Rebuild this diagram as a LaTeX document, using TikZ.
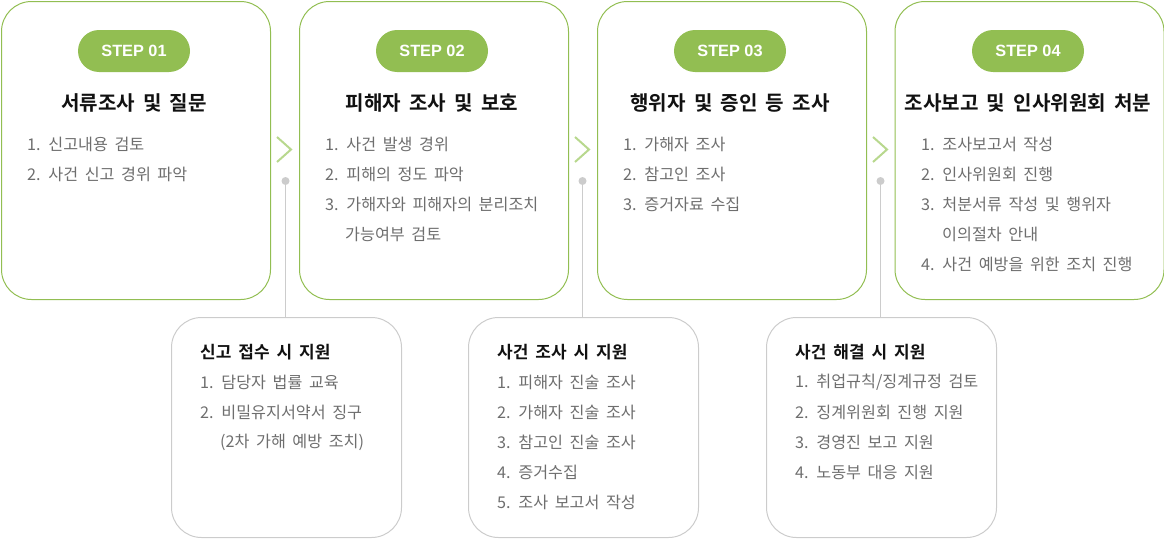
\documentclass[tikz,border=0pt]{standalone}
\usepackage{fontspec}
\newfontfamily\kr{Noto Sans CJK KR}[BoldFont={Noto Sans CJK KR Bold},WordSpace=1.2]
\newfontfamily\krt{Noto Sans CJK KR}[BoldFont={Noto Sans CJK KR Bold},WordSpace=1.0]
\newfontfamily\krb{Noto Sans CJK KR}[BoldFont={Noto Sans CJK KR Bold},WordSpace=1.8]
\newfontfamily\badgefont{Liberation Sans}
\definecolor{gborder}{RGB}{146,190,82}
\definecolor{gbadge}{RGB}{146,190,82}
\definecolor{gchev}{RGB}{184,216,142}
\definecolor{gline}{RGB}{204,204,204}
\definecolor{itemc}{RGB}{110,110,110}
\definecolor{titlec}{RGB}{17,17,17}
\begin{document}
\begin{tikzpicture}[x=1pt,y=-1pt,font=\kr,
  topbox/.style={draw=gborder,line width=1pt,rounded corners=30pt,minimum width=269pt,minimum height=298pt,anchor=north west,inner sep=0pt},
  botbox/.style={draw=gline,line width=1pt,rounded corners=30pt,minimum width=230pt,minimum height=220pt,anchor=north west,inner sep=0pt},
  badge/.style={fill=gbadge,rounded corners=21pt,minimum width=112pt,minimum height=42pt,text=white,font=\badgefont\bfseries\fontsize{16.3}{19}\selectfont,inner sep=0pt},
  ttl/.style={font=\krt\bfseries\fontsize{20.1}{24}\selectfont,text=titlec,inner sep=0pt},
  itm/.style={anchor=west,font=\kr\fontsize{16.2}{18}\selectfont,text=itemc,inner sep=0pt},
  bttl/.style={anchor=west,font=\krb\bfseries\fontsize{17}{19}\selectfont,text=titlec,inner sep=0pt},
  chev/.style={draw=gchev,line width=2pt},
  dotc/.style={circle,fill=gline,minimum size=8pt,inner sep=0pt},
  vline/.style={draw=gline,line width=1pt}]
\useasboundingbox (0,0) rectangle (1164,538);
% top boxes
\node[topbox] (t1) at (1,1) {};
\node[topbox] (t2) at (299,1) {};
\node[topbox] (t3) at (597,1) {};
\node[topbox] (t4) at (894.5,1) {};
% badges
\node[badge] (s1) at (134,51) {STEP 01};
\node[badge] (s2) at (432,51) {STEP 02};
\node[badge] (s3) at (730,51) {STEP 03};
\node[badge] (s4) at (1028,51) {STEP 04};
% titles
\node[ttl] (h1) at (134,103) {서류조사 및 질문};
\node[ttl] (h2) at (432,103) {피해자 조사 및 보호};
\node[ttl] (h3) at (730,103) {행위자 및 증인 등 조사};
\node[ttl] (h4) at (1028,103) {조사보고 및 인사위원회 처분};
% items
\node[itm] (a11) at (27,144) {1. 신고내용 검토};
\node[itm] (a12) at (27,174) {2. 사건 신고 경위 파악};
\node[itm] (a21) at (325,144) {1. 사건 발생 경위};
\node[itm] (a22) at (325,174) {2. 피해의 정도 파악};
\node[itm] (a23) at (325,204) {3. 가해자와 피해자의 분리조치};
\node[itm] (a24) at (345,234) {가능여부 검토};
\node[itm] (a31) at (623,144) {1. 가해자 조사};
\node[itm] (a32) at (623,174) {2. 참고인 조사};
\node[itm] (a33) at (623,204) {3. 증거자료 수집};
\node[itm] (a41) at (921,144) {1. 조사보고서 작성};
\node[itm] (a42) at (921,174) {2. 인사위원회 진행};
\node[itm] (a43) at (921,204) {3. 처분서류 작성 및 행위자};
\node[itm] (a44) at (942,234) {이의절차 안내};
\node[itm] (a45) at (921,264) {4. 사건 예방을 위한 조치 진행};
% chevrons
\draw[chev] (277,137) -- (291,149.5) -- (277,162);
\draw[chev] (575,137) -- (589,149.5) -- (575,162);
\draw[chev] (873,137) -- (887,149.5) -- (873,162);
% bottom boxes
\node[botbox] (b1) at (171,317) {};
\node[botbox] (b2) at (468,317) {};
\node[botbox] (b3) at (766,317) {};
% dots and lines
\node[dotc] (d1) at (285.5,181) {};
\node[dotc] (d2) at (582.5,181) {};
\node[dotc] (d3) at (880.5,181) {};
\draw[vline] (d1.center) -- (d1.center |- b1.north);
\draw[vline] (d2.center) -- (d2.center |- b2.north);
\draw[vline] (d3.center) -- (d3.center |- b3.north);
% bottom texts
\node[bttl] (c1) at (200,352) {신고 접수 시 지원};
\node[itm] (c11) at (200,382) {1. 담당자 법률 교육};
\node[itm] (c12) at (200,412) {2. 비밀유지서약서 징구};
\node[itm] (c13) at (220,442) {(2차 가해 예방 조치)};
\node[bttl] (c2) at (497,352) {사건 조사 시 지원};
\node[itm] (c21) at (497,382) {1. 피해자 진술 조사};
\node[itm] (c22) at (497,412) {2. 가해자 진술 조사};
\node[itm] (c23) at (497,442) {3. 참고인 진술 조사};
\node[itm] (c24) at (497,472) {4. 증거수집};
\node[itm] (c25) at (497,502) {5. 조사 보고서 작성};
\node[bttl] (c3) at (795,352) {사건 해결 시 지원};
\node[itm] (c31) at (795,382) {1. 취업규칙/징계규정 검토};
\node[itm] (c32) at (795,412) {2. 징계위원회 진행 지원};
\node[itm] (c33) at (795,442) {3. 경영진 보고 지원};
\node[itm] (c34) at (795,472) {4. 노동부 대응 지원};
\end{tikzpicture}
\end{document}
